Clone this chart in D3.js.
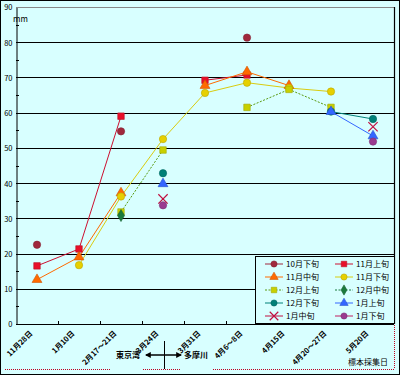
<!DOCTYPE html>
<html>
<head>
<meta charset="utf-8">
<script src="https://cdn.jsdelivr.net/npm/d3@7"></script>
<style>
  body { margin: 0; background: #fff; }
  svg text { font-family: "Noto Sans CJK JP", "DejaVu Sans", sans-serif; }
</style>
</head>
<body>
<div id="chart"></div>
<script>
// sampling dates (x categories)
const dates = ["11月28日", "1月10日", "2月17～21日", "3月24日", "3月31日", "4月6～8日", "4月15日", "4月20～27日", "5月20日"];
const yTicks = [0, 10, 20, 30, 40, 50, 60, 70, 80, 90];

// one array per series (null = not measured)
const oct3  = [22.5, null, 54.7, null, null, 81.3, null, null, null];
const nov1  = [16.5, 21.3, 59.0, null, 69.2, 70.7, null, null, null];
const nov2  = [12.6, 19.0, 37.2, null, 67.7, 71.6, 67.7, null, null];
const nov3  = [null, 16.7, 36.2, 52.5, 65.6, 68.5, 67.0, 66.0, null];
const dec1  = [null, null, 31.8, 49.4, null, 61.5, 66.6, 61.5, null];
const dec2  = [null, null, 30.8, null, null, null, null, null, null];
const dec3  = [null, null, null, 42.8, null, null, null, 60.3, 58.2];
const jan1  = [null, null, null, 39.8, null, null, null, 60.3, 53.4];
const jan2  = [null, null, null, 35.5, null, null, null, null, 56.0];
const jan3  = [null, null, null, 33.7, null, null, null, null, 51.8];

const series = [
  {name: "10月下旬", values: oct3, color: "#a0283c", line: "#a0283c", marker: "circle", dash: null},
  {name: "11月上旬", values: nov1, color: "#e8102a", line: "#cc1030", marker: "square", dash: null},
  {name: "11月中旬", values: nov2, color: "#ff6a00", line: "#ff6a00", marker: "triangle", dash: null},
  {name: "11月下旬", values: nov3, color: "#e6d000", line: "#d8cc10", marker: "circle", dash: null},
  {name: "12月上旬", values: dec1, color: "#c8d000", line: "#5a9a10", marker: "square", dash: "2,1.5"},
  {name: "12月中旬", values: dec2, color: "#1a7a3c", line: "#1a7a3c", marker: "diamond", dash: "2,1.5"},
  {name: "12月下旬", values: dec3, color: "#008078", line: "#008078", marker: "circle", dash: null},
  {name: "1月上旬", values: jan1, color: "#3366ff", line: "#3366ff", marker: "triangle", dash: null},
  {name: "1月中旬", values: jan2, color: "#c01040", line: "#c01040", marker: "cross", dash: null},
  {name: "1月下旬", values: jan3, color: "#9a3a90", line: "#c02060", marker: "circle", dash: null}
];

const W = 400, H = 375, bg = "#d8ffff";
const svg = d3.select("#chart").append("svg").attr("width", W).attr("height", H);
svg.append("rect").attr("x", 0.5).attr("y", 0.5).attr("width", W - 1).attr("height", H - 1)
  .attr("fill", bg).attr("stroke", "#000");

const x = d3.scaleBand().domain(dates).range([16, 394]);
const y = d3.scaleLinear().domain([0, 90]).range([324, 7]);
const cx = d => x(d) + x.bandwidth() / 2;

// gridlines
svg.append("g").selectAll("line").data(yTicks.filter(t => t > 0))
  .enter().append("line")
  .attr("x1", 16).attr("x2", 394)
  .attr("y1", d => Math.round(y(d)) + 0.5).attr("y2", d => Math.round(y(d)) + 0.5)
  .attr("stroke", d => d === 90 ? "#888" : "#000").attr("stroke-width", 1.2);
svg.append("line").attr("x1", 394.5).attr("x2", 394.5).attr("y1", 7).attr("y2", 324)
  .attr("stroke", "#000").attr("stroke-width", 1.2);

// y axis
const yAxis = svg.append("g").attr("transform", "translate(16.5,0.5)")
  .call(d3.axisLeft(y).tickValues(yTicks).tickSize(0).tickPadding(4));
yAxis.select(".domain").attr("stroke", "#000");
yAxis.selectAll("text").attr("font-size", 7.5).attr("fill", "#000");
svg.append("g").selectAll("line").data(d3.range(5, 90, 10)).enter().append("line")
  .attr("x1", 16).attr("x2", 19)
  .attr("y1", d => Math.round(y(d)) + 0.5).attr("y2", d => Math.round(y(d)) + 0.5)
  .attr("stroke", "#000");
svg.append("text").attr("x", 13).attr("y", 22).attr("font-size", 8).text("mm");

// x axis
svg.append("line").attr("x1", 16).attr("x2", 394).attr("y1", 324.5).attr("y2", 324.5)
  .attr("stroke", "#000").attr("stroke-width", 1.2);
svg.append("g").selectAll("line").data(dates.slice(1)).enter().append("line")
  .attr("x1", d => Math.round(x(d)) + 0.5).attr("x2", d => Math.round(x(d)) + 0.5)
  .attr("y1", 321).attr("y2", 324).attr("stroke", "#000");
svg.append("g").selectAll("text").data(dates).enter().append("text")
  .attr("transform", d => `translate(${cx(d) - 4},${334}) rotate(-45)`)
  .attr("text-anchor", "end").attr("font-size", 7.5).attr("font-weight", "bold")
  .text(d => d);

// lines
const line = d3.line().defined(d => d[1] != null)
  .x(d => cx(d[0])).y(d => y(d[1]));
series.forEach(s => {
  svg.append("path")
    .datum(dates.map((d, i) => [d, s.values[i]]))
    .attr("d", line).attr("fill", "none")
    .attr("stroke", s.line).attr("stroke-width", 1)
    .attr("stroke-dasharray", s.dash);
});

// markers
function marker(g, type, color, size) {
  if (type === "cross") {
    g.append("path").attr("d", d3.symbol(d3.symbolX, size * 9)())
      .attr("fill", "none").attr("stroke", color).attr("stroke-width", 1.2);
    return;
  }
  const sym = {circle: d3.symbolCircle, square: d3.symbolSquare,
    triangle: d3.symbolTriangle, diamond: d3.symbolDiamond}[type];
  g.append("path").attr("d", d3.symbol(sym, size * size)())
    .attr("fill", color).attr("stroke", d3.color(color).darker(0.6)).attr("stroke-width", 0.6);
}
series.forEach(s => {
  s.values.forEach((v, i) => {
    if (v == null) return;
    const g = svg.append("g").attr("transform", `translate(${cx(dates[i])},${y(v)})`);
    marker(g, s.marker, s.color, 6.5);
  });
});

// legend
const lg = svg.append("g");
lg.append("rect").attr("x", 255.5).attr("y", 256.5).attr("width", 139).attr("height", 67)
  .attr("fill", bg).attr("stroke", "#000");
series.forEach((s, i) => {
  const col = i % 2, row = Math.floor(i / 2);
  const lx = 265 + col * 70, ly = 264 + row * 13;
  lg.append("line").attr("x1", lx).attr("x2", lx + 18).attr("y1", ly).attr("y2", ly)
    .attr("stroke", s.line).attr("stroke-dasharray", s.dash);
  marker(lg.append("g").attr("transform", `translate(${lx + 9},${ly})`), s.marker, s.color, 5.5);
  lg.append("text").attr("x", lx + 21).attr("y", ly + 3).attr("font-size", 8).text(s.name);
});

// river annotation
svg.append("text").attr("x", 140).attr("y", 358).attr("text-anchor", "end")
  .attr("font-size", 8).attr("font-weight", "bold").text("東京湾");
svg.append("text").attr("x", 184).attr("y", 358)
  .attr("font-size", 8).attr("font-weight", "bold").text("多摩川");
svg.append("defs").append("marker").attr("id", "ah").attr("viewBox", "0 0 10 10")
  .attr("refX", 8).attr("refY", 5).attr("markerWidth", 4).attr("markerHeight", 4)
  .attr("orient", "auto-start-reverse")
  .append("path").attr("d", "M0,0L10,5L0,10z").attr("fill", "#000");
svg.append("line").attr("x1", 146).attr("x2", 181).attr("y1", 355).attr("y2", 355)
  .attr("stroke", "#000").attr("stroke-width", 1.5)
  .attr("marker-start", "url(#ah)").attr("marker-end", "url(#ah)");
svg.append("line").attr("x1", 164.5).attr("x2", 164.5).attr("y1", 341).attr("y2", 369)
  .attr("stroke", "#000");
svg.append("text").attr("x", 388).attr("y", 365).attr("text-anchor", "end")
  .attr("font-size", 8).text("標本採集日");

// red dotted frame remnants
const redSeg = [[5, 110], [143, 181], [213, 394]];
svg.append("g").selectAll("line").data(redSeg).enter().append("line")
  .attr("x1", d => d[0]).attr("x2", d => d[1]).attr("y1", 369.5).attr("y2", 369.5)
  .attr("stroke", "#c00020").attr("stroke-dasharray", "1,1");
svg.append("line").attr("x1", 394.5).attr("x2", 394.5).attr("y1", 325).attr("y2", 369)
  .attr("stroke", "#c00020").attr("stroke-dasharray", "1,1");
</script>
</body>
</html>
